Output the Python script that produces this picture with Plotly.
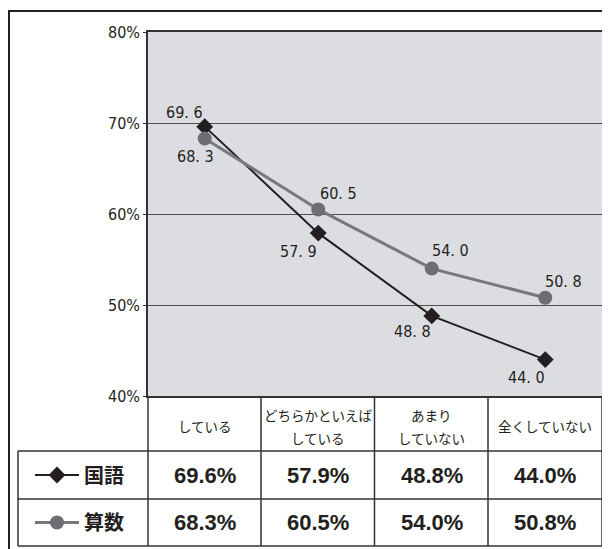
import plotly.graph_objects as go

# data
categories = ["している", "どちらかといえば<br>している", "あまり<br>していない", "全くしていない"]
series_names = ["国語", "算数"]
kokugo = [69.6, 57.9, 48.8, 44.0]
sansu = [68.3, 60.5, 54.0, 50.8]
y_ticks = [40, 50, 60, 70, 80]

# the page body has an 8px margin, so the figure is drawn 8px smaller
OFF = 8
W, H = 610 - OFF, 549 - OFF

def px_x(x):
    return (x - OFF) / W

def px_y(y):
    return 1 - (y - OFF) / H

# label offsets (px) for each point
kokugo_shift = [(-20, 14), (-20, -18), (-19, -16), (-19, -18)]
sansu_shift = [(-9, -18), (20, 16), (19, 18), (18, 16)]

black = "#231f20"
gray = "#77787b"
narrow = "DejaVu Sans Condensed"
jp = "Noto Sans CJK JP"

fig = go.Figure()
fig.add_trace(go.Scatter(
    x=categories, y=kokugo, name=series_names[0], mode="lines+markers",
    line=dict(color=black, width=2),
    marker=dict(symbol="diamond", size=13, color=black),
    legend="legend", showlegend=True,
))
fig.add_trace(go.Scatter(
    x=categories, y=sansu, name=series_names[1], mode="lines+markers",
    line=dict(color=gray, width=3),
    marker=dict(symbol="circle", size=14, color="#6d6e71"),
    legend="legend2", showlegend=True,
))

annotations = []
for vals, shifts in [(kokugo, kokugo_shift), (sansu, sansu_shift)]:
    for c, v, (dx, dy) in zip(categories, vals, shifts):
        annotations.append(dict(
            x=c, y=v, xref="x", yref="y", text=f"{v:.1f}".replace(".", ". "),
            showarrow=False, xshift=dx, yshift=dy,
            font=dict(family=narrow, size=16, color=black),
        ))

# table header (category names)
for c in categories:
    lines = c.split("<br>")
    n = len(lines)
    for i, t in enumerate(lines):
        annotations.append(dict(
            x=c, y=px_y(426), xref="x", yref="paper", text=t, showarrow=False,
            yshift=-(i - (n - 1) / 2) * 23, yanchor="middle",
            font=dict(family=jp, size=13.5, color=black),
        ))

# table values
for vals, row_y in [(kokugo, 475), (sansu, 522.5)]:
    for c, v in zip(categories, vals):
        annotations.append(dict(
            x=c, y=px_y(row_y), xref="x", yref="paper", text=f"{v:.1f}%",
            showarrow=False, yanchor="middle",
            font=dict(family="Liberation Sans, Arial, sans-serif", size=22,
                      color=black, weight="bold"),
        ))

line_style = dict(color="#333333", width=1.5)
shapes = []
# outer frame
shapes.append(dict(type="rect", xref="paper", yref="paper",
                   x0=px_x(9), x1=px_x(640), y0=px_y(580), y1=px_y(11),
                   line=dict(color=black, width=2)))
# table lines
for y in [451, 499, 546]:
    shapes.append(dict(type="line", xref="paper", yref="paper",
                       x0=px_x(18), x1=px_x(602), y0=px_y(y), y1=px_y(y), line=line_style))
shapes.append(dict(type="line", xref="paper", yref="paper",
                   x0=px_x(18), x1=px_x(18), y0=px_y(451), y1=px_y(546), line=line_style))
for x in [148, 261, 374.5, 488, 602]:
    shapes.append(dict(type="line", xref="paper", yref="paper",
                       x0=px_x(x), x1=px_x(x), y0=px_y(396), y1=px_y(546), line=line_style))

legend_font = dict(family=jp, size=20, color=black, weight="bold")

fig.update_layout(
    width=W, height=H,
    margin=dict(l=0, r=0, t=0, b=0, autoexpand=False),
    showlegend=True,
    paper_bgcolor="white",
    plot_bgcolor="#dcdde0",
    annotations=annotations,
    shapes=shapes,
    legend=dict(x=px_x(30), y=px_y(475), xanchor="left", yanchor="middle", visible=True,
                font=legend_font, bgcolor="rgba(0,0,0,0)", itemwidth=44),
    legend2=dict(x=px_x(30), y=px_y(522.5), xanchor="left", yanchor="middle", visible=True,
                 font=legend_font, bgcolor="rgba(0,0,0,0)", itemwidth=44),
    xaxis=dict(
        domain=[px_x(148), px_x(602)], range=[-0.5, 3.5], automargin=False,
        showticklabels=False, showgrid=False, showline=True, mirror=True,
        linecolor="#333333", linewidth=1.5, zeroline=False,
    ),
    yaxis=dict(
        domain=[px_y(396), px_y(32)], range=[40, 80], automargin=False,
        tickmode="array", tickvals=y_ticks, ticktext=[f"{v}%" for v in y_ticks],
        ticks="outside", ticklen=3, tickcolor="#333333",
        showgrid=True, gridcolor="#505050", gridwidth=1.2,
        showline=True, mirror=True, linecolor="#333333", linewidth=1.5,
        zeroline=False, tickfont=dict(family=narrow, size=16, color=black),
    ),
)

fig.write_html("out.html")
